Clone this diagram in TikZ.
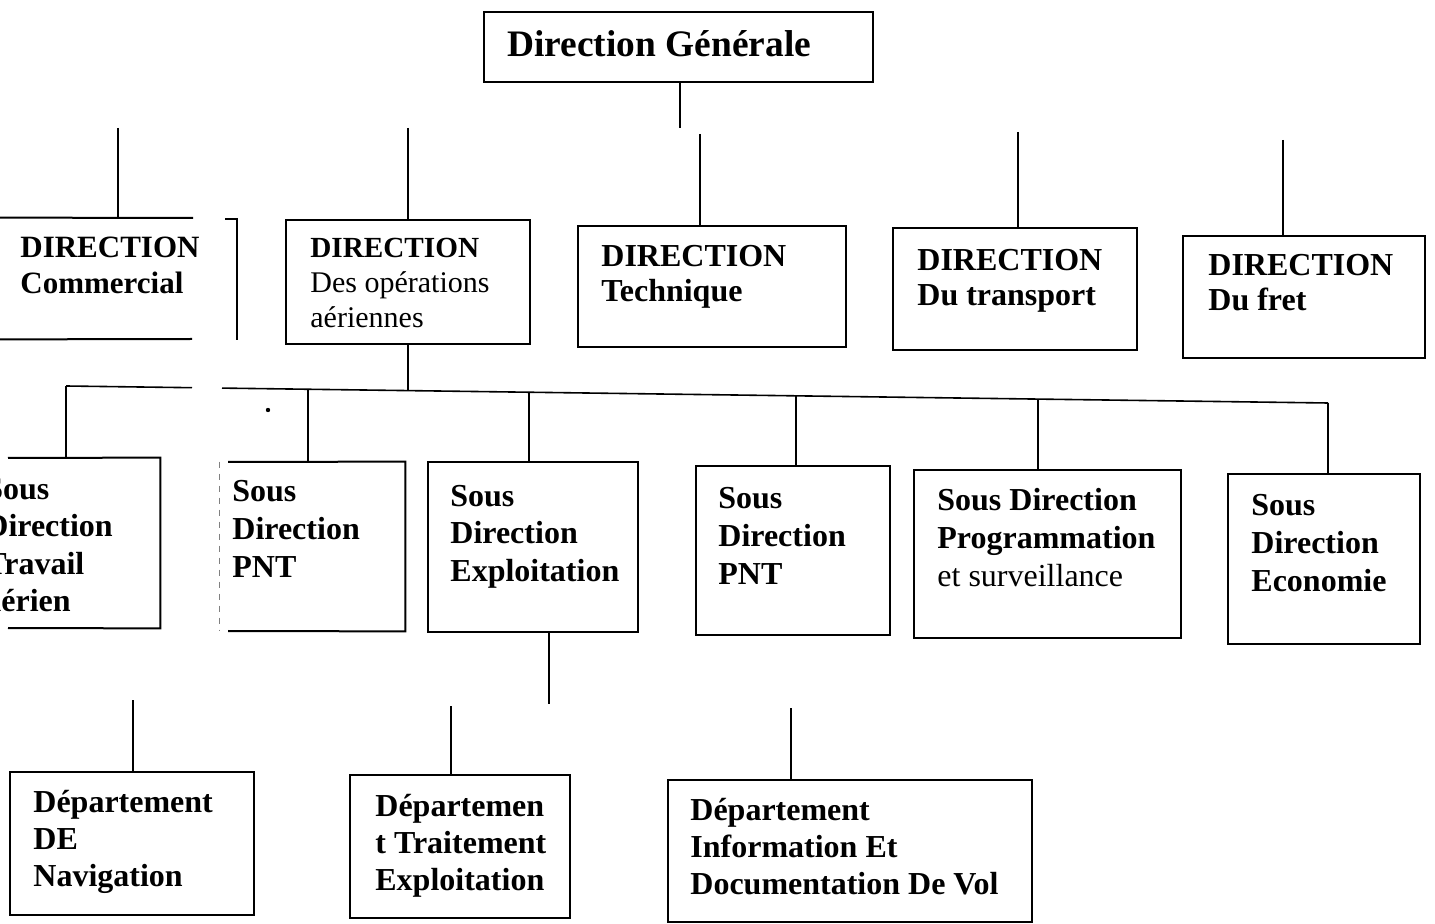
\documentclass[tikz,border=0pt]{standalone}
\usepackage{fontspec}
\setmainfont{Liberation Serif}
\usetikzlibrary{fit}
\begin{document}
\begin{tikzpicture}[x=0.5pt,y=-0.5pt,
  box/.style={draw, line width=1pt, inner sep=0pt},
  ghost/.style={inner sep=0pt},
  wire/.style={line width=0.8pt},
  lbl/.style={anchor=base west, inner sep=0pt, align=left, font=\bfseries\fontsize{16}{19}\selectfont},
  lblA/.style={lbl, font=\bfseries\fontsize{15.5}{18}\selectfont},
  lblB/.style={lbl, font=\bfseries\fontsize{16}{17.5}\selectfont},
  lblC/.style={lbl, font=\bfseries\fontsize{16}{18.5}\selectfont}
]
\useasboundingbox (0,0) rectangle (1435,924);
\clip (0,0) rectangle (1435,924);

% ---- top
\node[box, fit={(484,12) (873,82)}] (dg) {};
\node[lbl, font=\bfseries\fontsize{18.7}{22}\selectfont] (tdg) at (507,57) {Direction Générale};
\coordinate (dgend) at (680,128);
\draw[wire] (dg.south -| dgend) -- (dgend);

% ---- row 2
\node[ghost, fit={(-4,218) (237,339)}] (dc) {};
\draw[line width=1pt] (dc.north west) -- (193,218);
\draw[line width=1pt] (dc.south west) -- (192,339);
\draw[line width=0.7pt] (225,219) -- (237,219) -- (237,340);
\node[lblA] (tdc) at (20,294) {DIRECTION\\Commercial};
\coordinate (sdc) at (118,128);
\draw[wire] (sdc) -- (sdc |- dc.north);

\node[box, fit={(286,220) (530,344)}] (dop) {};
\node[lbl, font=\bfseries\fontsize{14.6}{17.5}\selectfont] (tdop) at (310,328) {DIRECTION\\{\mdseries\fontsize{15}{17.5}\selectfont Des opérations}\\{\mdseries\fontsize{15}{17.5}\selectfont aériennes}};
\coordinate (sdop) at (408,128);
\draw[wire] (sdop) -- (sdop |- dop.north);

\node[box, fit={(578,226) (846,347)}] (dt) {};
\node[lblB] (tdt) at (601,302) {DIRECTION\\Technique};
\coordinate (sdt) at (700,134);
\draw[wire] (sdt) -- (sdt |- dt.north);

\node[box, fit={(893,228) (1137,350)}] (dtr) {};
\node[lblB] (tdtr) at (917,306) {DIRECTION\\Du transport};
\coordinate (sdtr) at (1018,132);
\draw[wire] (sdtr) -- (sdtr |- dtr.north);

\node[box, fit={(1183,236) (1425,358)}] (df) {};
\node[lblB] (tdf) at (1208,311) {DIRECTION\\Du fret};
\coordinate (sdf) at (1283,140);
\draw[wire] (sdf) -- (sdf |- df.north);

% ---- bar
\coordinate (b0) at (66,386);
\coordinate (bg1) at (192,387.7);
\coordinate (bg2) at (222,388.1);
\coordinate (b1) at (308,389.3);
\coordinate (bop) at (408,390.6);
\coordinate (b2) at (529,392.2);
\coordinate (b3) at (796,395.8);
\coordinate (b4) at (1038,399.1);
\coordinate (b5) at (1328,403);
\draw[wire] (dop.south -| bop) -- (bop);
\draw[wire] (bg1) -- (b0);
\draw[wire] (bg2) -- (b5);

% ---- row 3
\node[ghost, fit={(-20,458) (160,628)}] (sta) {};
\draw[line width=1pt] (8,458) -- (sta.north east) -- (sta.south east) -- (8,628);
\node[lblC] (tsta) at (-15,611) {Sous\\Direction\\Travail\\aérien};
\draw[wire] (b0) -- (b0 |- sta.north);

\node[ghost, fit={(220,462) (405,631)}] (sp1) {};
\draw[line width=1pt] (228,462) -- (sp1.north east) -- (sp1.south east) -- (228,631);
\draw[line width=0.5pt, gray, dashed] (sp1.north west) -- (sp1.south west);
\node[lbl] (tsp1) at (232,578) {Sous\\Direction\\PNT};
\draw[wire] (b1) -- (b1 |- sp1.north);
\fill (268,410) circle (2.2);

\node[box, fit={(428,462) (638,632)}] (sex) {};
\node[lbl] (tsex) at (450,582) {Sous\\Direction\\Exploitation};
\draw[wire] (b2) -- (b2 |- sex.north);
\coordinate (sexend) at (549,704);
\draw[wire] (sex.south -| sexend) -- (sexend);

\node[box, fit={(696,466) (890,635)}] (sp2) {};
\node[lbl] (tsp2) at (718,585) {Sous\\Direction\\PNT};
\draw[wire] (b3) -- (b3 |- sp2.north);

\node[box, fit={(914,470) (1181,638)}] (spr) {};
\node[lbl] (tspr) at (937,587) {Sous Direction\\Programmation\\{\mdseries et surveillance}};
\draw[wire] (b4) -- (b4 |- spr.north);

\node[box, fit={(1228,474) (1420,644)}] (sec) {};
\node[lbl] (tsec) at (1251,592) {Sous\\Direction\\Economie};
\draw[wire] (b5) -- (b5 |- sec.north);

% ---- row 4
\node[box, fit={(10,772) (254,915)}] (dn) {};
\node[lblC] (tdn) at (33,886) {Département\\DE\\Navigation};
\coordinate (sdn) at (133,700);
\draw[wire] (sdn) -- (sdn |- dn.north);

\node[box, fit={(350,775) (570,918)}] (dte) {};
\node[lblC] (tdte) at (375,890) {Départemen\\t Traitement\\Exploitation};
\coordinate (sdte) at (451,706);
\draw[wire] (sdte) -- (sdte |- dte.north);

\node[box, fit={(668,780) (1032,922)}] (di) {};
\node[lblC] (tdi) at (690,894) {Département\\Information Et\\Documentation De Vol};
\coordinate (sdi) at (791,708);
\draw[wire] (sdi) -- (sdi |- di.north);
\end{tikzpicture}
\end{document}
